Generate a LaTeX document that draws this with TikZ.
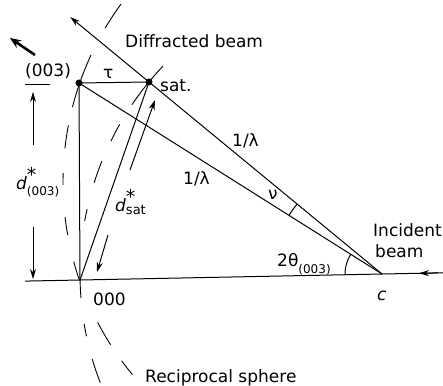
\documentclass[tikz,border=0pt]{standalone}
\usepackage{fontspec}
\setmainfont{DejaVu Sans}
\usetikzlibrary{arrows.meta,calc}
\begin{document}
\begin{tikzpicture}[x=1pt,y=1pt,
  ln/.style={line width=1pt},
  lab/.style={inner sep=0pt,font=\fontsize{17}{20}\selectfont},
  sph/.style={line width=0.9pt},
  tip/.style={-{Stealth[length=10pt,width=6pt]}},
  dot/.style={circle,fill,inner sep=0pt,minimum size=7pt}]
\useasboundingbox (0,0) rectangle (443,385);
% key points
\coordinate (O) at (80,105);
\coordinate (C) at (382,111);
\coordinate (E) at (365,203);
\node[dot] (D) at (79,302) {};
\node[dot] (S) at (149,303) {};
% reciprocal spheres (dashed arcs)
\foreach \a/\b in {136.5/145.9,150.3/153.9,158/162.4,167.6/169.9,181.1/184.6,189.5/191.9,196.4/201.1}
  \draw[sph] ($(C)+(\a:302)$) arc[start angle=\a,end angle=\b,radius=302];
\foreach \a/\b in {143.9/149.4,155.1/165.6,169.2/173.6,178.3/180.6,186.7/190.1,195.3/199,207.7/212.6,216.3/219.6}
  \draw[sph] ($(E)+(\a:302)$) arc[start angle=\a,end angle=\b,radius=302];
% base line and incident beam
\coordinate (BL) at (25,103.9);
\coordinate (BR) at (443,112.2);
\coordinate (IA) at (438,112.1);
\coordinate (IT) at (419,111.7);
\draw[ln] (BL) -- (BR);
\draw[ln,tip] (IA) -- (IT);
% beams
\coordinate (DT) at ($(C)!1.338!(S)$);
\draw[ln,tip] (C) -- (DT);
\draw[ln] (C) -- (D.center);
\draw[ln] (D.center) -- (S.center);
\draw[ln] (O) -- (D.center);
\draw[ln] (O) -- (S.center);
% angle arcs
\draw[ln] ($(C)+(181.1:37)$) arc[start angle=181.1,end angle=147.8,radius=37];
\draw[ln] ($(C)+(147.8:110)$) arc[start angle=147.8,end angle=140.5,radius=110];
% dimension arrows
\coordinate (A1) at (33,240); \coordinate (A2) at (33,293);
\coordinate (A3) at (33,158); \coordinate (A4) at (33,106);
\draw[ln,tip] (A1) -- (A2);
\draw[ln,tip] (A3) -- (A4);
\coordinate (B1) at (130,215); \coordinate (B2) at (155,285);
\coordinate (B3) at (108,150); \coordinate (B4) at (97,113);
\draw[ln,tip] (B1) -- (B2);
\draw[ln,tip] (B3) -- (B4);
% (003) direction arrow and tick
\coordinate (T1) at (35,330); \coordinate (T2) at (10,347);
\draw[line width=2.6pt,-{Stealth[length=11pt,width=9pt]}] (T1) -- (T2);
\coordinate (K1) at (25,300); \coordinate (K2) at (50,300);
\draw[ln] (K1) -- (K2);
% labels
\node[lab,anchor=base west] (ldb) at (125,337) {Diffracted beam};
\node[lab,anchor=base west] (lsat) at (160,293) {sat.};
\node[lab,anchor=base west] (ltau) at (103,306) {τ};
\node[lab,anchor=base west] (ll1) at (232,238) {1/λ};
\node[lab,anchor=base west] (ll2) at (183,200) {1/λ};
\node[lab,anchor=base west] (lnu) at (268,185) {ν};
\node[lab,anchor=base west] (linc) at (373,148) {Incident};
\node[lab,anchor=base west] (lbeam) at (375,127) {beam};
\node[lab,anchor=base west] (lc) at (377,85) {\itshape c};
\node[lab,anchor=base west] (l000) at (93,80) {000};
\node[lab,anchor=base west] (lrs) at (145,3) {Reciprocal sphere};
\node[lab,anchor=base west] (l003) at (25,308) {(003)};
\node[lab,anchor=base west] (ld003) at (16,195) {{\itshape d}\rlap{\raisebox{8pt}{\fontsize{19}{19}\selectfont *}}\raisebox{-6pt}{\fontsize{12}{12}\selectfont (003)}};
\node[lab,anchor=base west] (ldsat) at (115,173) {{\itshape d}\rlap{\raisebox{8pt}{\fontsize{19}{19}\selectfont *}}\raisebox{-3pt}{\fontsize{13}{13}\selectfont sat}};
\node[lab,anchor=base west] (ltheta) at (277,118) {2θ\raisebox{-7pt}{\fontsize{12}{12}\selectfont (003)}};
\end{tikzpicture}
\end{document}
